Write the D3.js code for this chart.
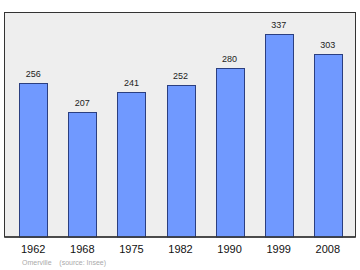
<!DOCTYPE html>
<html>
<head>
<meta charset="utf-8">
<script src="https://cdn.jsdelivr.net/npm/d3@7"></script>
<style>
  body { margin: 0; background: #fff; }
  svg { display: block; font-family: "Liberation Sans", Arial, sans-serif; }
</style>
</head>
<body>
<div id="chart"></div>
<script>
const w = 360;
const h = 270;

const years = ["1962", "1968", "1975", "1982", "1990", "1999", "2008"];
const population = [256, 207, 241, 252, 280, 337, 303];
const sourceText = "Omerville    (source: Insee)";

const frame = { left: 4.5, right: 355.5, top: 12.5, bottom: 237 };

const svg = d3.select("#chart")
    .append("svg")
    .attr("width", w)
    .attr("height", h);

let xScale = d3.scaleBand()
    .domain(years)
    .range([frame.left + 0.5, frame.right + 0.5])
    .paddingInner(0.43)
    .paddingOuter(0.29);

let yScale = d3.scaleLinear()
    .domain([0, 372])
    .range([frame.bottom, frame.top]);

// plot background
svg.append("rect")
    .attr("x", frame.left)
    .attr("y", frame.top)
    .attr("width", frame.right - frame.left)
    .attr("height", frame.bottom - frame.top)
    .attr("fill", "#eeeeee")
    .attr("stroke", "#333333")
    .attr("stroke-width", 1);

svg.selectAll("rect.bar")
    .data(population)
    .enter()
    .append("rect")
    .attr("class", "bar")
    .attr("x", (d, i) => Math.round(xScale(years[i])) + 0.5)
    .attr("y", d => Math.round(yScale(d)) + 0.5)
    .attr("width", Math.round(xScale.bandwidth()))
    .attr("height", d => frame.bottom - Math.round(yScale(d)) - 0.5)
    .attr("fill", "#7099ff")
    .attr("stroke", "#2b3f80")
    .attr("stroke-width", 1);

svg.selectAll("text.val")
    .data(population)
    .enter()
    .append("text")
    .attr("class", "val")
    .attr("x", (d, i) => xScale(years[i]) + xScale.bandwidth() / 2)
    .attr("y", d => yScale(d) - 6)
    .attr("text-anchor", "middle")
    .attr("font-size", 9)
    .attr("fill", "#222")
    .text(d => d);

// bottom axis line redrawn darker
svg.append("line")
    .attr("x1", frame.left)
    .attr("x2", frame.right)
    .attr("y1", frame.bottom)
    .attr("y2", frame.bottom)
    .attr("stroke", "#333")
    .attr("stroke-width", 1.5);

let xAxis = d3.axisBottom(xScale).tickSize(0).tickPadding(8);

svg.append("g")
    .attr("transform", "translate(0," + frame.bottom + ")")
    .call(xAxis)
    .call(g => g.select(".domain").remove())
    .selectAll("text")
    .attr("font-size", 11)
    .attr("font-family", "Liberation Sans, Arial, sans-serif")
    .attr("fill", "#111");

svg.append("text")
    .attr("x", 22)
    .attr("y", 265)
    .attr("font-size", 7)
    .attr("fill", "#aaaaaa")
    .attr("xml:space", "preserve")
    .style("white-space", "pre")
    .text(sourceText);
</script>
</body>
</html>
